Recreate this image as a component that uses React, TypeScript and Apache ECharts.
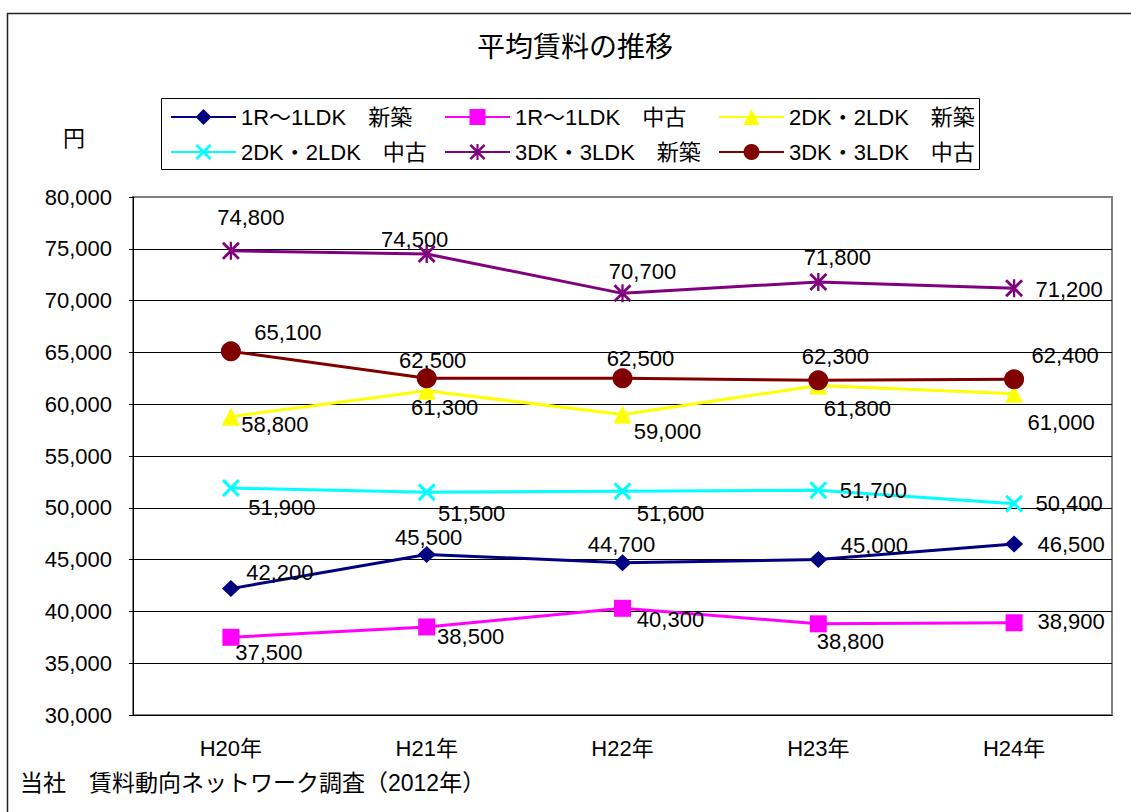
import React, { useEffect, useRef } from "react";
import * as echarts from "echarts";

const categories = ["H20年", "H21年", "H22年", "H23年", "H24年"];
const seriesNames = [
  "1R～1LDK　新築",
  "1R～1LDK　中古",
  "2DK・2LDK　新築",
  "2DK・2LDK　中古",
  "3DK・3LDK　新築",
  "3DK・3LDK　中古",
];
const r1New = [42200, 45500, 44700, 45000, 46500];
const r1Used = [37500, 38500, 40300, 38800, 38900];
const dk2New = [58800, 61300, 59000, 61800, 61000];
const dk2Used = [51900, 51500, 51600, 51700, 50400];
const dk3New = [74800, 74500, 70700, 71800, 71200];
const dk3Used = [65100, 62500, 62500, 62300, 62400];
const yTicks = { min: 30000, max: 80000, interval: 5000 };

// label offsets (label centre relative to the point), per series
const offR1New = [[49, -16], [2, -17], [-1, -18], [56, -14], [57, 0]];
const offR1Used = [[38, 15], [44, 10], [48, 11], [32, 18], [57, -1]];
const offDk2New = [[44, 8], [18, 17], [45, 17], [39, 23], [47, 29]];
const offDk2Used = [[51, 19], [45, 21], [48, 22], [55, 0], [55, 0]];
const offDk3New = [[20, -33], [-12, -14], [20, -22], [19, -24], [55, 1]];
const offDk3Used = [[57, -19], [6, -18], [18, -20], [17, -24], [51, -24]];

const FONT = "'Liberation Sans', 'Noto Sans CJK JP', sans-serif";

const xSymbol =
  "path://M0,1.2L1.2,0L10,8.8L8.8,10Z M8.8,0L10,1.2L1.2,10L0,8.8Z";
const starSymbol =
  "path://M0,1.1L1.1,0L10,8.9L8.9,10Z M8.9,0L10,1.1L1.1,10L0,8.9Z M4.35,0L5.65,0L5.65,10L4.35,10Z";

function buildSeries(
  name: string,
  values: number[],
  offsets: number[][],
  color: string,
  symbol: string,
  symbolSize: number | number[]
) {
  return {
    name,
    type: "line",
    data: values.map((v, i) => ({
      value: v,
      label: { offset: offsets[i] },
    })),
    symbol,
    symbolSize,
    showAllSymbol: true,
    lineStyle: { color, width: 3 },
    itemStyle: { color },
    label: {
      show: true,
      position: "inside",
      color: "#000",
      fontSize: 22,
      fontFamily: FONT,
      formatter: (p: any) => Number(p.value).toLocaleString("en-US"),
    },
    emphasis: { disabled: true },
  };
}

export default function App() {
  const ref = useRef<HTMLDivElement>(null);
  useEffect(() => {
    if (!ref.current) return;
    const chart = echarts.init(ref.current, undefined, { renderer: "svg" });
    const legendCommon = {
      orient: "horizontal",
      left: 170,
      padding: 0,
      itemWidth: 65,
      itemHeight: 20,
      itemGap: 5,
      selectedMode: false,
      textStyle: {
        fontSize: 22,
        fontFamily: FONT,
        color: "#000",
        width: 198,
        lineHeight: 24,
      },
    };
    chart.setOption({
      animation: false,
      backgroundColor: "#fff",
      title: {
        text: "平均賃料の推移",
        left: 477,
        top: 33,
        padding: 0,
        textStyle: {
          fontSize: 28,
          fontWeight: "normal",
          fontFamily: FONT,
          color: "#000",
        },
      },
      legend: [
        { ...legendCommon, top: 105, data: seriesNames.slice(0, 3) },
        { ...legendCommon, top: 140, data: seriesNames.slice(3, 6) },
      ],
      grid: {
        left: 133,
        top: 197,
        right: 19,
        bottom: 97,
        show: true,
        borderColor: "#808080",
        borderWidth: 2,
        backgroundColor: "#fff",
      },
      xAxis: {
        type: "category",
        data: categories,
        boundaryGap: true,
        axisLine: { lineStyle: { color: "#000", width: 1 } },
        axisTick: { show: false },
        axisLabel: {
          fontSize: 22,
          fontFamily: FONT,
          color: "#000",
          margin: 22,
        },
      },
      yAxis: {
        type: "value",
        min: yTicks.min,
        max: yTicks.max,
        interval: yTicks.interval,
        axisLine: { show: true, lineStyle: { color: "#000", width: 1 } },
        axisTick: { show: true, length: 4, lineStyle: { color: "#000" } },
        splitLine: {
          show: true,
          showMaxLine: false,
          lineStyle: { color: "#000", width: 1 },
        },
        axisLabel: {
          fontSize: 22,
          fontFamily: FONT,
          color: "#000",
          margin: 21,
          formatter: (v: number) => v.toLocaleString("en-US"),
        },
      },
      graphic: [
        {
          type: "rect",
          shape: { x: 7.5, y: 13.5, width: 1200, height: 900 },
          style: { fill: "none", stroke: "#222", lineWidth: 1.5 },
          silent: true,
          z: -10,
        },
        {
          type: "rect",
          shape: { x: 161.5, y: 98.5, width: 818, height: 71 },
          style: { fill: "none", stroke: "#000", lineWidth: 1 },
          silent: true,
        },
        {
          type: "text",
          x: 74,
          y: 138,
          style: {
            text: "円",
            fontSize: 22,
            fontFamily: FONT,
            fill: "#000",
            textAlign: "center",
            textVerticalAlign: "middle",
          },
        },
        {
          type: "text",
          x: 20,
          y: 783,
          style: {
            text: "当社　賃料動向ネットワーク調査（2012年）",
            fontSize: 23,
            fontFamily: FONT,
            fill: "#000",
            textAlign: "left",
            textVerticalAlign: "middle",
          },
        },
      ],
      series: [
        buildSeries(seriesNames[0], r1New, offR1New, "#000080", "diamond", [18, 17]),
        buildSeries(seriesNames[1], r1Used, offR1Used, "#FF00FF", "rect", 17),
        buildSeries(seriesNames[2], dk2New, offDk2New, "#FFFF00", "triangle", 18),
        buildSeries(seriesNames[3], dk2Used, offDk2Used, "#00FFFF", xSymbol, 18),
        buildSeries(seriesNames[4], dk3New, offDk3New, "#800080", starSymbol, 18),
        buildSeries(seriesNames[5], dk3Used, offDk3Used, "#800000", "circle", 20),
      ],
    });
    return () => chart.dispose();
  }, []);
  return (
    <div
      ref={ref}
      style={{ position: "absolute", left: 0, top: 0, width: 1131, height: 812 }}
    />
  );
}
